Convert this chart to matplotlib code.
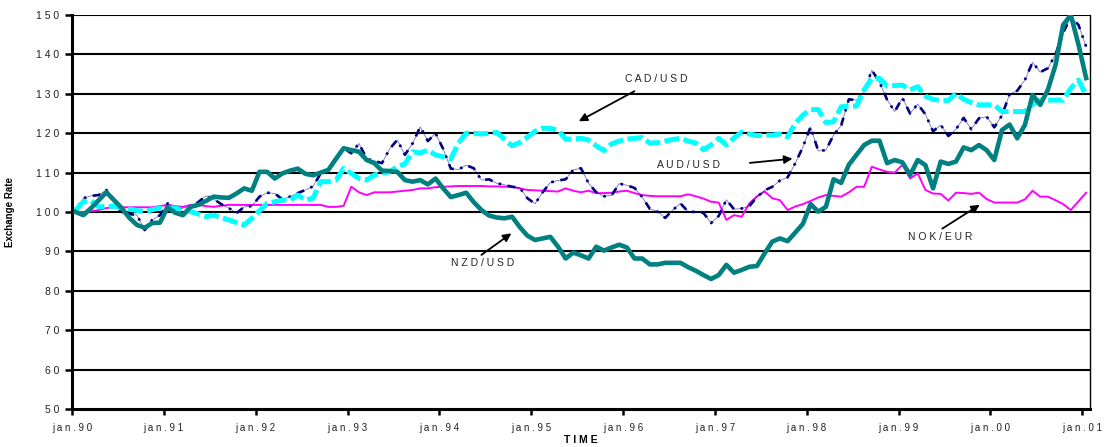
import matplotlib
matplotlib.use("Agg")
import matplotlib.pyplot as plt
import numpy as np

plt.rcParams['font.family'] = ['Liberation Sans', 'DejaVu Sans']

# Monthly index values, jan.90 .. jan.01 (jan.90 = 100)
tick_labels = ["jan.90", "jan.91", "jan.92", "jan.93", "jan.94", "jan.95",
               "jan.96", "jan.97", "jan.98", "jan.99", "jan.00", "jan.01"]

aud_usd = [
    100.5, 103.5, 104.1, 104.3, 105.6, 103.0, 99.7, 99.5, 99.2, 95.4, 98.0, 99.2,
    102.2, 101.0, 101.0, 101.3, 102.5, 104.1, 103.3, 102.0, 101.0, 99.7, 101.3, 101.5,
    103.9, 104.9, 104.7, 103.2, 103.9, 104.8, 105.6, 106.5, 109.8, 110.2, 114.0, 116.2,
    114.9, 117.4, 113.5, 113.0, 112.4, 116.0, 118.3, 114.5, 117.4, 121.6, 118.0, 120.0,
    116.0, 111.0, 110.8, 111.9, 111.1, 108.1, 108.3, 107.3, 106.9, 106.4, 106.2, 103.5,
    102.1, 105.0, 107.5, 108.0, 108.3, 110.7, 111.1, 107.3, 105.0, 104.0, 104.2, 107.2,
    106.8, 106.1, 103.8, 100.8, 100.1, 98.5, 100.5, 102.2, 100.1, 100.0, 99.8, 97.2,
    99.0, 103.1, 100.7, 100.9, 101.5, 103.8, 105.5, 106.4, 108.0, 108.8, 112.4, 116.5,
    121.6, 115.5, 115.7, 119.5, 122.0, 128.6, 128.4, 130.5, 136.0, 133.0, 128.5, 125.5,
    129.0, 125.0, 127.4, 124.8, 120.5, 122.1, 119.3, 121.0, 123.9, 121.0, 123.8, 124.2,
    121.5, 124.5, 129.9, 130.8, 133.5, 138.0, 135.5, 136.5, 140.0, 145.5, 149.5, 147.5,
    142.0,
]

cad_usd = [
    100.5, 102.6, 102.9, 101.3, 101.4, 101.5, 101.0, 100.7, 100.4, 100.1, 100.6, 101.0,
    101.0, 101.0, 100.5, 100.1, 99.5, 98.8, 99.2, 98.6, 98.0, 97.3, 96.7, 98.4,
    100.3, 102.2, 102.6, 103.0, 103.0, 104.3, 103.0, 103.5, 107.7, 107.7, 108.1, 111.1,
    109.8, 108.5, 108.1, 109.4, 109.8, 110.2, 111.5, 112.2, 115.3, 115.0, 115.7, 114.5,
    114.0, 113.5, 117.5, 120.0, 120.0, 119.8, 120.0, 120.2, 118.5, 116.8, 117.6, 119.0,
    120.5, 121.3, 121.2, 120.8, 118.5, 118.5, 118.7, 118.3, 116.8, 115.6, 117.3, 118.0,
    118.5, 118.7, 118.9, 117.5, 117.6, 118.0, 118.4, 118.7, 118.0, 117.5, 115.8, 117.0,
    118.7, 117.0, 118.8, 120.3, 119.8, 119.4, 119.5, 119.5, 119.8, 119.1, 122.5, 124.6,
    126.0, 126.0, 122.7, 122.9, 126.7, 126.9, 126.9, 131.0, 133.9, 133.9, 132.0, 132.1,
    132.2, 131.0, 131.8, 129.4, 128.6, 128.3, 128.3, 130.1, 128.6, 127.8, 127.2, 127.2,
    127.2, 125.5, 125.5, 125.5, 125.5, 127.3, 128.4, 128.4, 128.4, 128.4, 131.4, 133.5,
    129.7,
]

nok_eur = [
    100.0, 100.0, 100.2, 100.5, 101.0, 101.2, 101.2, 101.2, 101.2, 101.2, 101.2, 101.5,
    101.8, 101.5, 101.3, 101.8, 101.8, 101.5, 101.3, 101.6, 101.8, 101.8, 101.8, 101.8,
    101.8, 101.8, 101.8, 101.8, 101.8, 101.8, 101.8, 101.8, 101.8, 101.3, 101.3, 101.6,
    106.4, 105.0, 104.3, 105.0, 105.0, 105.0, 105.2, 105.4, 105.6, 106.0, 106.0, 106.3,
    106.4, 106.5, 106.6, 106.6, 106.6, 106.6, 106.5, 106.5, 106.4, 106.4, 106.0, 105.6,
    105.5, 105.4, 105.3, 105.2, 106.0, 105.4, 105.0, 105.4, 104.8, 104.8, 104.9, 105.2,
    105.4, 104.8, 104.3, 104.1, 104.0, 104.0, 104.0, 104.0, 104.5, 104.0, 103.4, 102.6,
    102.4, 98.0, 99.2, 98.8, 102.2, 104.0, 105.2, 103.5, 103.0, 100.5, 101.4, 102.0,
    102.8, 103.7, 104.3, 104.1, 103.9, 105.0, 106.4, 106.4, 111.5, 110.8, 110.2, 110.0,
    112.0, 108.5, 109.8, 105.6, 104.7, 104.6, 102.9, 104.9, 104.8, 104.6, 104.9, 103.3,
    102.4, 102.4, 102.4, 102.4, 103.2, 105.4, 103.9, 103.9, 103.0, 102.0, 100.5, 102.7,
    104.9,
]

nzd_usd = [
    100.0, 99.2, 101.0, 103.0, 105.0, 103.0, 101.0, 98.5, 96.7, 96.0, 97.2, 97.3,
    101.2, 99.8, 99.2, 101.3, 101.8, 102.8, 103.9, 103.7, 103.6, 104.7, 106.0, 105.4,
    110.2, 110.2, 108.5, 109.8, 110.5, 111.0, 109.7, 109.3, 110.0, 110.7, 113.5, 116.2,
    115.7, 115.3, 113.2, 112.4, 110.5, 110.4, 110.2, 108.1, 107.7, 108.1, 107.0, 108.5,
    106.0, 103.8, 104.3, 104.9, 102.5, 100.5, 99.1, 98.6, 98.4, 98.8, 96.2, 94.0,
    92.9, 93.3, 93.7, 91.2, 88.2, 89.7, 89.0, 88.2, 91.2, 90.2, 91.0, 91.7,
    91.0, 88.2, 88.2, 86.7, 86.7, 87.1, 87.1, 87.1, 86.0, 85.1, 84.0, 83.0,
    84.0, 86.6, 84.6, 85.3, 86.1, 86.3, 89.5, 92.5, 93.3, 92.6, 94.8, 97.0,
    102.0, 100.1, 101.3, 108.3, 107.4, 112.0, 114.5, 117.0, 118.1, 118.1, 112.4, 113.2,
    112.6, 109.4, 113.2, 111.9, 106.0, 112.8, 112.2, 112.8, 116.4, 115.7, 117.0, 115.7,
    113.2, 120.8, 122.2, 118.7, 122.1, 129.7, 127.2, 131.0, 137.3, 147.5, 150.0, 142.5,
    134.0,
]


def spaced(s):
    return " ".join(s)


months = np.arange(len(nzd_usd)) + 0.5

fig = plt.figure(figsize=(11.07, 4.47), dpi=100)
ax = fig.add_axes([0.0650, 0.0850, 0.9196, 0.8814])

# horizontal grid
for yv in range(60, 151, 10):
    ax.axhline(yv, color="black", lw=1.5, zorder=1)

ax.plot(months, nok_eur, color="#FF00FF", lw=1.4, zorder=3)
ax.plot(months, aud_usd, color="#000080", lw=0.6, alpha=0.55, zorder=4)
ax.plot(months, aud_usd, color="#000080", lw=1.9,
        linestyle=(0, (3, 2.5, 1, 2.5)), zorder=4)
ax.plot(months, cad_usd, color="#00FFFF", lw=3.6,
        linestyle=(0, (3, 0.9)), zorder=5)
ax.plot(months, nzd_usd, color="#008080", lw=3.3, zorder=6,
        solid_joinstyle="round")

ax.set_xlim(0, 133)
ax.set_ylim(50, 150)
ax.set_xticks(np.arange(0, 133, 12))
ax.set_xticklabels([spaced(t) for t in tick_labels], fontsize=7, color="#222222")
ax.set_yticks(np.arange(50, 151, 10))
ax.set_yticklabels([spaced(str(v)) for v in range(50, 151, 10)],
                   fontsize=7.5, color="#222222")
ax.tick_params(axis="x", direction="out", length=4, width=1.8, pad=6)
ax.tick_params(axis="y", direction="out", length=5, width=1.8, pad=4)

for side in ("left", "bottom"):
    ax.spines[side].set_linewidth(2.2)
ax.spines["top"].set_visible(False)
ax.spines["right"].set_linewidth(1.0)

ax.set_ylabel("Exchange Rate", fontsize=7, fontweight="bold")
ax.yaxis.set_label_coords(-0.056, 0.5)
ax.set_xlabel(spaced("TIME"), fontsize=7.5, fontweight="bold")
ax.xaxis.set_label_coords(0.5, -0.066)

arrow = dict(arrowstyle="-|>", color="black", lw=1.3, mutation_scale=12)
labels = [
    ("CAD/USD", (76.3, 133.7), (73.8, 131.0), (65.9, 122.7)),
    ("AUD/USD", (80.5, 111.9), (88.2, 112.4), (94.5, 113.6)),
    ("NZD/USD", (53.6, 87.0), (53.2, 88.7), (57.7, 95.0)),
    ("NOK/EUR", (113.4, 93.7), (113.4, 95.4), (118.9, 102.2)),
]
for name, txt_xy, tail, head in labels:
    ax.text(txt_xy[0], txt_xy[1], spaced(name), fontsize=7.5, color="#222222",
            ha="center", va="center", zorder=7)
    ax.annotate("", xy=head, xytext=tail, arrowprops=arrow, zorder=7)

fig.savefig("out.png", dpi=100)
